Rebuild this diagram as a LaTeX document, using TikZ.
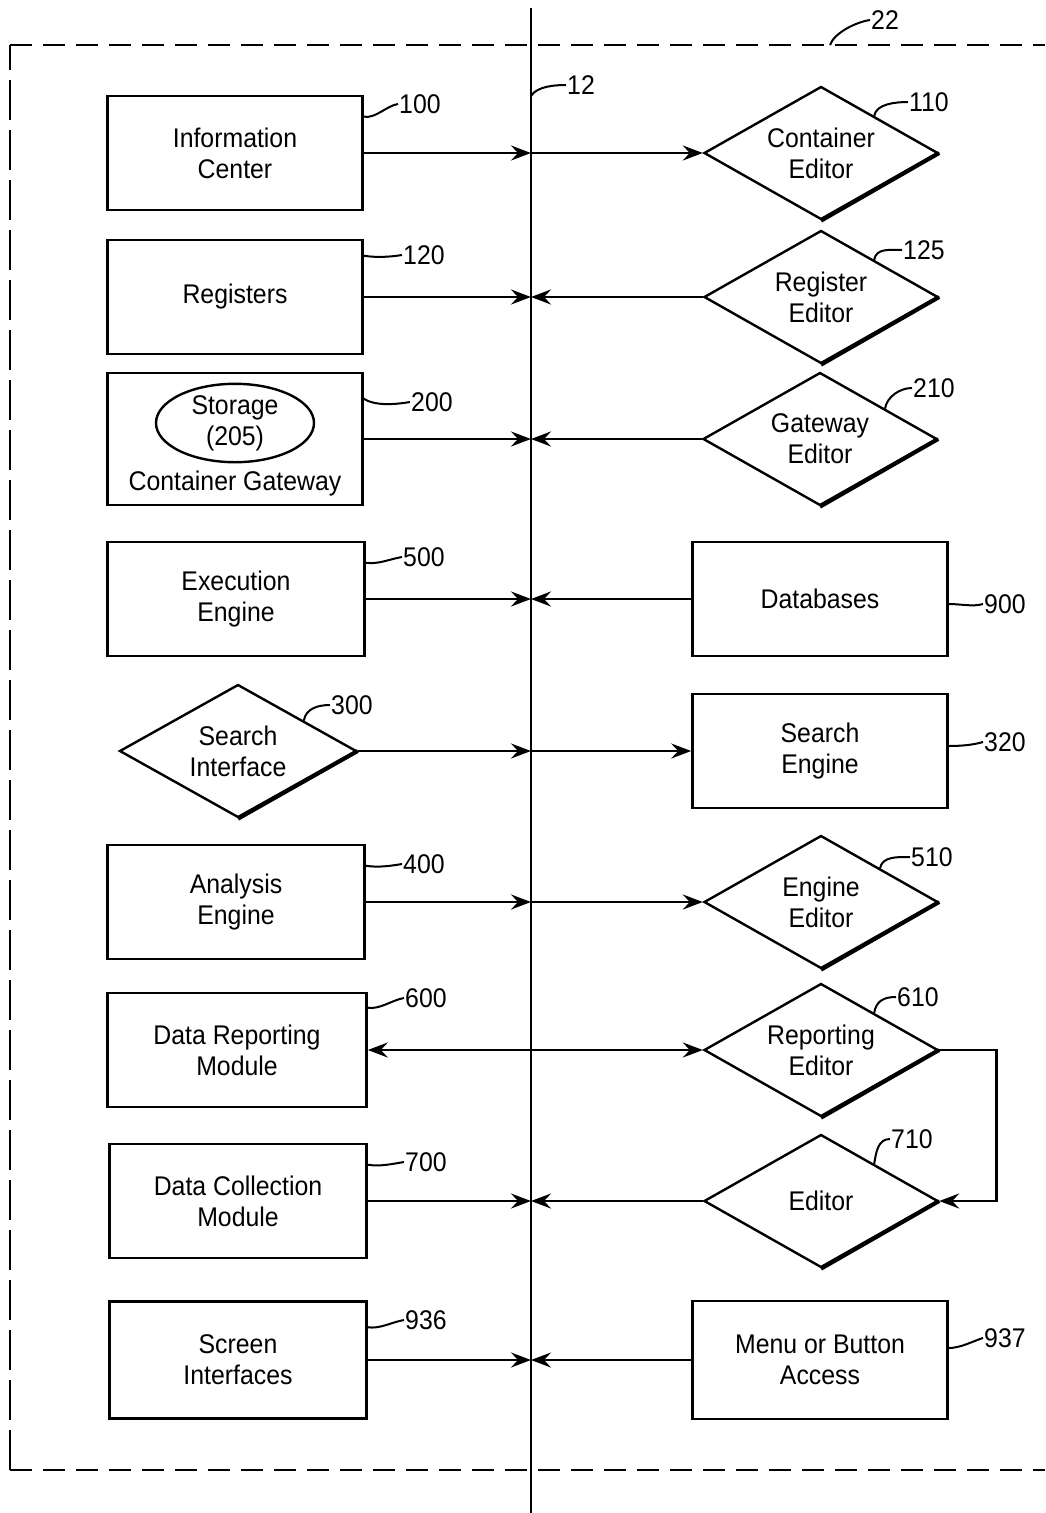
\documentclass[tikz,border=0pt]{standalone}
\usepackage{fontspec}
\setmainfont{Liberation Sans}[FakeStretch=0.92]
\usetikzlibrary{shapes.geometric,arrows.meta,calc}
\newcommand\txtf{\fontsize{27}{31}\selectfont}
\begin{document}
\begin{tikzpicture}[x=1pt,y=-1pt,
  box/.style={draw, line width=2.6pt, minimum width=255pt, minimum height=114pt, inner sep=0pt, align=center, font=\txtf},
  dia/.style={draw, diamond, aspect=1.76, line width=2.4pt, minimum width=234pt, minimum height=133pt, inner sep=0pt, align=center, font=\txtf},
  arr/.style={line width=2.6pt, -{Stealth[length=20pt,width=15pt,inset=7pt]}},
  darr/.style={line width=2.6pt, {Stealth[length=20pt,width=15pt,inset=7pt]}-{Stealth[length=20pt,width=15pt,inset=7pt]}},
  lbl/.style={font=\txtf, anchor=west, inner sep=1pt},
  lead/.style={line width=2pt},
  frame/.style={line width=2.6pt, dash pattern=on 22pt off 11pt}]
\useasboundingbox (0,0) rectangle (1045,1513);
% boundary 22 and divider 12
\coordinate (top) at (531,8);
\coordinate (bot) at (531,1513);
\draw[line width=2pt] (top) -- (bot);
\coordinate (fl) at (10,45);
\coordinate (fr) at (1045,45);
\coordinate (bl) at (10,1470);
\coordinate (br) at (1045,1470);
\draw[frame] (fl) -- (fr);
\draw[frame] (bl) -- (br);
\draw[line width=2.6pt, dash pattern=on 40pt off 10pt] (bl) -- (fl);
\node[lbl] (l22) at (870,20) {22};
\draw[lead] (830,45) .. controls +(4,-12) and +(-14,2) .. (l22.west);
\node[lbl] (l12) at (566,85) {12};
\draw[lead] ($(top)+(0,88)$) .. controls +(6,-10) and +(-10,0) .. (l12.west);

% left column
\node[box] (b100) at (235,153) {Information\\Center};
\node[box] (b120) at (235,297) {Registers};
\node[box, minimum height=132pt] (b200) at (235,439) {};
\node[draw, ellipse, line width=2.4pt, minimum width=158pt, minimum height=74pt, inner sep=0pt, align=center, font=\txtf] (e205) at (235,423) {Storage\\(205)};
\node[font=\txtf, inner sep=0pt] (t200) at (235,484) {Container Gateway};
\node[box, minimum width=257pt] (b500) at (236,599) {Execution\\Engine};
\node[dia, minimum width=237pt] (d300) at (238,751) {Search\\Interface};
\node[box, minimum width=257pt] (b400) at (236,902) {Analysis\\Engine};
\node[box, minimum width=259pt] (b600) at (237,1050) {Data Reporting\\Module};
\node[box, minimum width=257pt] (b700) at (238,1201) {Data Collection\\Module};
\node[box, minimum width=257pt, minimum height=117pt] (b936) at (238,1360) {Screen\\Interfaces};

% right column
\node[dia] (d110) at (821,153) {Container\\Editor};
\node[dia] (d125) at (821,297) {Register\\Editor};
\node[dia] (d210) at (820,439) {Gateway\\Editor};
\node[box] (b900) at (820,599) {Databases};
\node[box] (b320) at (820,751) {Search\\Engine};
\node[dia] (d510) at (821,902) {Engine\\Editor};
\node[dia] (d610) at (821,1050) {Reporting\\Editor};
\node[dia] (d710) at (821,1201) {\raisebox{-10pt}{Editor}};
\node[box, minimum height=118pt] (b937) at (820,1360) {Menu or Button\\Access};

% heavier lower-right edges of the diamonds
\foreach \d in {d110,d125,d210,d300,d510,d610,d710}
  \draw[line width=4pt] (\d.south) -- (\d.east);

% connectors
\draw[arr] (b100.east) -- (b100.east -| top);
\draw[arr] (b100.east -| top) -- (d110.west);
\draw[arr] (b120.east) -- (b120.east -| top);
\draw[arr] (d125.west) -- (d125.west -| top);
\draw[arr] (b200.east) -- (b200.east -| top);
\draw[arr] (d210.west) -- (d210.west -| top);
\draw[arr] (b500.east) -- (b500.east -| top);
\draw[arr] (b900.west) -- (b900.west -| top);
\draw[arr] (d300.east) -- (d300.east -| top);
\draw[arr] (d300.east -| top) -- (b320.west);
\draw[arr] (b400.east) -- (b400.east -| top);
\draw[arr] (b400.east -| top) -- (d510.west);
\draw[darr] (b600.east) -- (d610.west);
\draw[arr] (d610.east) -- ++(57,0) |- (d710.east);
\draw[arr] (b700.east) -- (b700.east -| top);
\draw[arr] (d710.west) -- (d710.west -| top);
\draw[arr] (b936.east) -- (b936.east -| top);
\draw[arr] (b937.west) -- (b937.west -| top);

% reference labels with leaders
\node[lbl] (l100) at (398,104) {100};
\draw[lead] ($(b100.north east)+(0,22)$) .. controls +(12,2) and +(-12,2) .. (l100.west);
\node[lbl] (l120) at (402,255) {120};
\draw[lead] ($(b120.north east)+(0,17)$) .. controls +(12,2) and +(-12,2) .. (l120.west);
\node[lbl] (l200) at (410,402) {200};
\draw[lead] ($(b200.north east)+(0,27)$) .. controls +(12,8) and +(-12,2) .. (l200.west);
\node[lbl] (l500) at (402,557) {500};
\draw[lead] ($(b500.north east)+(0,22)$) .. controls +(12,2) and +(-12,2) .. (l500.west);
\node[lbl] (l300) at (330,705) {300};
\draw[lead] ($(d300.north)!0.55!(d300.east)$) .. controls +(2,-12) and +(-12,0) .. (l300.west);
\node[lbl] (l400) at (402,864) {400};
\draw[lead] ($(b400.north east)+(0,22)$) .. controls +(12,2) and +(-12,2) .. (l400.west);
\node[lbl] (l600) at (404,998) {600};
\draw[lead] ($(b600.north east)+(0,16)$) .. controls +(12,2) and +(-12,2) .. (l600.west);
\node[lbl] (l700) at (404,1162) {700};
\draw[lead] ($(b700.north east)+(0,22)$) .. controls +(12,2) and +(-12,2) .. (l700.west);
\node[lbl] (l936) at (404,1320) {936};
\draw[lead] ($(b936.north east)+(0,27)$) .. controls +(12,2) and +(-12,2) .. (l936.west);

\node[lbl] (l110) at (908,102) {110};
\draw[lead] ($(d110.north)!0.45!(d110.east)$) .. controls +(2,-12) and +(-12,0) .. (l110.west);
\node[lbl] (l125) at (902,250) {125};
\draw[lead] ($(d125.north)!0.45!(d125.east)$) .. controls +(2,-12) and +(-12,0) .. (l125.west);
\node[lbl] (l210) at (912,388) {210};
\draw[lead] ($(d210.north)!0.55!(d210.east)$) .. controls +(2,-12) and +(-12,0) .. (l210.west);
\node[lbl] (l510) at (910,857) {510};
\draw[lead] ($(d510.north)!0.5!(d510.east)$) .. controls +(2,-12) and +(-12,0) .. (l510.west);
\node[lbl] (l610) at (896,997) {610};
\draw[lead] ($(d610.north)!0.45!(d610.east)$) .. controls +(2,-12) and +(-12,0) .. (l610.west);
\node[lbl] (l710) at (890,1139) {710};
\draw[lead] ($(d710.north)!0.45!(d710.east)$) .. controls +(2,-12) and +(-12,0) .. (l710.west);

\node[lbl] (l900) at (983,604) {900};
\draw[lead] ($(b900.east)+(0,5)$) .. controls +(12,0) and +(-10,3) .. (l900.west);
\node[lbl] (l320) at (983,742) {320};
\draw[lead] ($(b320.east)+(0,-5)$) .. controls +(12,0) and +(-10,3) .. (l320.west);
\node[lbl] (l937) at (983,1338) {937};
\draw[lead] ($(b937.east)+(0,-12)$) .. controls +(12,0) and +(-10,3) .. (l937.west);
\end{tikzpicture}
\end{document}
